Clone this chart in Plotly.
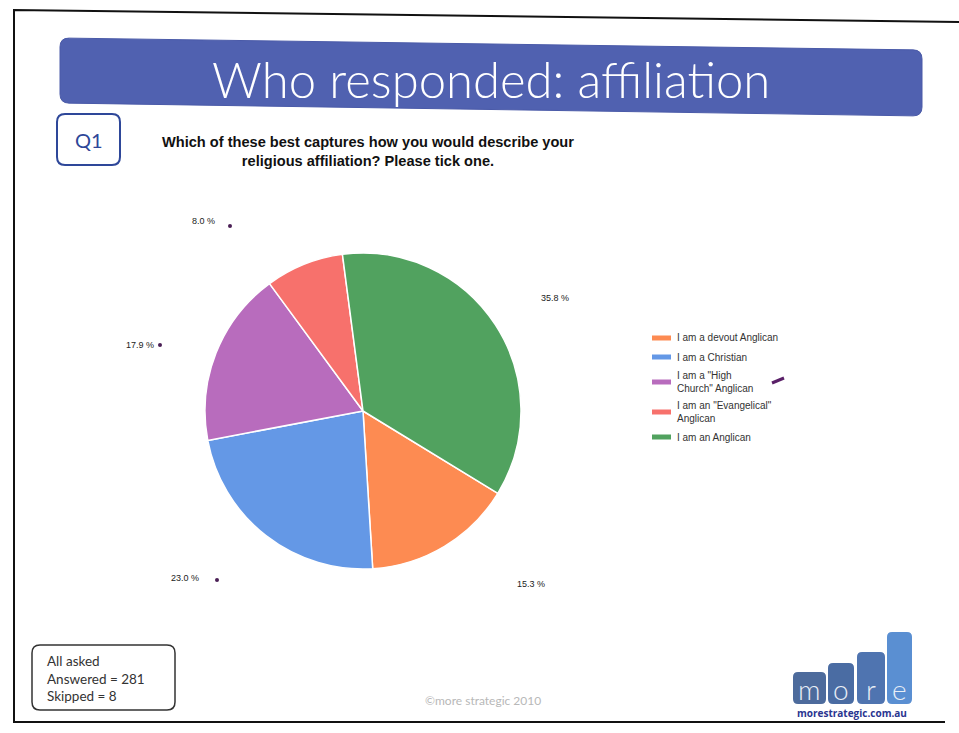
import plotly.graph_objects as go

# Survey responses, Q1: religious affiliation
categories = [
    'I am a devout Anglican',
    'I am a Christian',
    'I am a "High<br>Church" Anglican',
    'I am an "Evangelical"<br>Anglican',
    'I am an Anglican',
]
shares = [15.3, 23.0, 17.9, 8.0, 35.8]
slice_colors = ['#fd8b52', '#6498e6', '#b86cbd', '#f7716c', '#51a25f']
answered = 281
skipped = 8

W, H = 959, 733


def X(px):
    return px / W


def Y(py):
    return 1 - py / H


def rounded_poly(pts, r):
    """Closed path through pixel corner points with rounded corners (paper coords)."""
    n = len(pts)
    segs = []
    for i in range(n):
        p0, p1, p2 = pts[i - 1], pts[i], pts[(i + 1) % n]

        def toward(a, b, d):
            dx, dy = b[0] - a[0], b[1] - a[1]
            ln = (dx * dx + dy * dy) ** 0.5
            return (a[0] + dx / ln * d, a[1] + dy / ln * d)

        a = toward(p1, p0, r)
        b = toward(p1, p2, r)
        segs.append((a, p1, b))
    d = f"M{X(segs[0][0][0])},{Y(segs[0][0][1])} "
    for k, (a, c, b) in enumerate(segs):
        if k > 0:
            d += f"L{X(a[0])},{Y(a[1])} "
        d += f"Q{X(c[0])},{Y(c[1])} {X(b[0])},{Y(b[1])} "
    d += "Z"
    return d


def rrect(x0, y0, x1, y1, r):
    return rounded_poly([(x0, y0), (x1, y0), (x1, y1), (x0, y1)], r)


# pie placement (pixels)
cx, cy, rad = 363, 411, 158

fig = go.Figure(
    go.Pie(
        labels=categories,
        values=shares,
        marker=dict(colors=slice_colors, line=dict(color='white', width=1.5)),
        sort=False,
        direction='clockwise',
        rotation=121.4,
        textinfo='none',
        hoverinfo='label+percent',
        domain=dict(x=[X(cx - rad), X(cx + rad)], y=[Y(cy + rad), Y(cy - rad)]),
        showlegend=False,
    )
)

shapes = []
annotations = []

# page frame
frame = f"M{X(959)},{Y(22)} L{X(14)},{Y(10)} L{X(14)},{Y(722)} L{X(945)},{Y(722)}"
shapes.append(dict(type='path', xref='paper', yref='paper', path=frame,
                   line=dict(color='#111111', width=2)))

# title banner
shapes.append(dict(type='path', xref='paper', yref='paper',
                   path=rounded_poly([(60, 38), (922, 50), (922, 116), (60, 103)], 9),
                   fillcolor='#5061b0', line=dict(color='#4a5aa8', width=1)))
annotations.append(dict(text='Who responded: affiliation', x=X(491), y=Y(79),
                        xref='paper', yref='paper', showarrow=False,
                        xanchor='center', yanchor='middle',
                        font=dict(family='Lato', size=49, color='white', weight=300)))

# Q1 badge
shapes.append(dict(type='path', xref='paper', yref='paper',
                   path=rrect(57, 114, 120, 165, 8),
                   line=dict(color='#2e4799', width=2)))
annotations.append(dict(text='Q1', x=X(89), y=Y(140), xref='paper', yref='paper',
                        showarrow=False, xanchor='center', yanchor='middle',
                        font=dict(family='Lato', size=20, color='#2e4799')))

# question text
annotations.append(dict(
    text='<b>Which of these best captures how you would describe your<br>religious affiliation? Please tick one.</b>',
    x=X(368), y=Y(151), xref='paper', yref='paper', showarrow=False,
    xanchor='center', yanchor='middle', align='center',
    font=dict(family='Liberation Sans', size=14.6, color='#111111')))

# percentage labels
label_pos = [(531, 584), (185, 578), (140, 345), (203, 221), (555, 298)]
for v, (lx, ly) in zip(shares, label_pos):
    annotations.append(dict(text=f'{v:.1f} %', x=X(lx), y=Y(ly), xref='paper', yref='paper',
                            showarrow=False, xanchor='center', yanchor='middle',
                            font=dict(family='Liberation Sans', size=9, color='#222222')))

# pen marks
for (mx, my) in [(230, 226), (160, 345), (217, 580)]:
    shapes.append(dict(type='circle', xref='paper', yref='paper',
                       x0=X(mx - 2), x1=X(mx + 2), y0=Y(my + 2), y1=Y(my - 2),
                       fillcolor='#4a1f55', line=dict(width=0)))
shapes.append(dict(type='path', xref='paper', yref='paper',
                   path=f"M{X(772)},{Y(383)} L{X(784)},{Y(378)}",
                   line=dict(color='#5a2068', width=3)))

# legend
legend_y = [338, 357, 382, 412, 437]
for name, col, ly in zip(categories, slice_colors, legend_y):
    shapes.append(dict(type='rect', xref='paper', yref='paper',
                       x0=X(652), x1=X(671), y0=Y(ly + 2.5), y1=Y(ly - 2.5),
                       fillcolor=col, line=dict(width=0)))
    annotations.append(dict(text=name, x=X(675), y=Y(ly), xref='paper', yref='paper',
                            showarrow=False, xanchor='left', yanchor='middle', align='left',
                            font=dict(family='Liberation Sans', size=10, color='#333333')))

# response count box
shapes.append(dict(type='path', xref='paper', yref='paper',
                   path=rrect(32, 645, 175, 710, 8),
                   line=dict(color='#333333', width=1.5)))
annotations.append(dict(text=f'All asked<br>Answered = {answered}<br>Skipped = {skipped}',
                        x=X(45), y=Y(678), xref='paper', yref='paper', showarrow=False,
                        xanchor='left', yanchor='middle', align='left',
                        font=dict(family='Lato', size=13.5, color='#333333')))

# copyright
annotations.append(dict(text='©more strategic 2010', x=X(483), y=Y(700),
                        xref='paper', yref='paper', showarrow=False,
                        xanchor='center', yanchor='middle',
                        font=dict(family='Lato', size=12, color='#b8b8b8')))

# logo
logo_bars = [(793, 672, 826, '#4d6b9c', 'm'), (828, 663, 854, '#4a6ca3', 'o'),
             (857, 652, 885, '#4f74b0', 'r'), (887, 632, 912, '#5a8fd2', 'e')]
for (x0, y0, x1, col, ch) in logo_bars:
    shapes.append(dict(type='path', xref='paper', yref='paper',
                       path=rrect(x0, y0, x1, 704, 5),
                       fillcolor=col, line=dict(width=0)))
    annotations.append(dict(text=ch, x=X((x0 + x1) / 2), y=Y(689), xref='paper', yref='paper',
                            showarrow=False, xanchor='center', yanchor='middle',
                            font=dict(family='Lato', size=28, color='#e8eef6', weight=300)))
annotations.append(dict(text='<b>morestrategic.com.au</b>', x=X(852), y=Y(713),
                        xref='paper', yref='paper', showarrow=False,
                        xanchor='center', yanchor='middle',
                        font=dict(family='Open Sans', size=10, color='#2a3590')))

fig.update_layout(
    width=W, height=H,
    margin=dict(l=0, r=0, t=0, b=0),
    paper_bgcolor='white',
    plot_bgcolor='white',
    shapes=shapes,
    annotations=annotations,
)

fig.write_html('out.html')
